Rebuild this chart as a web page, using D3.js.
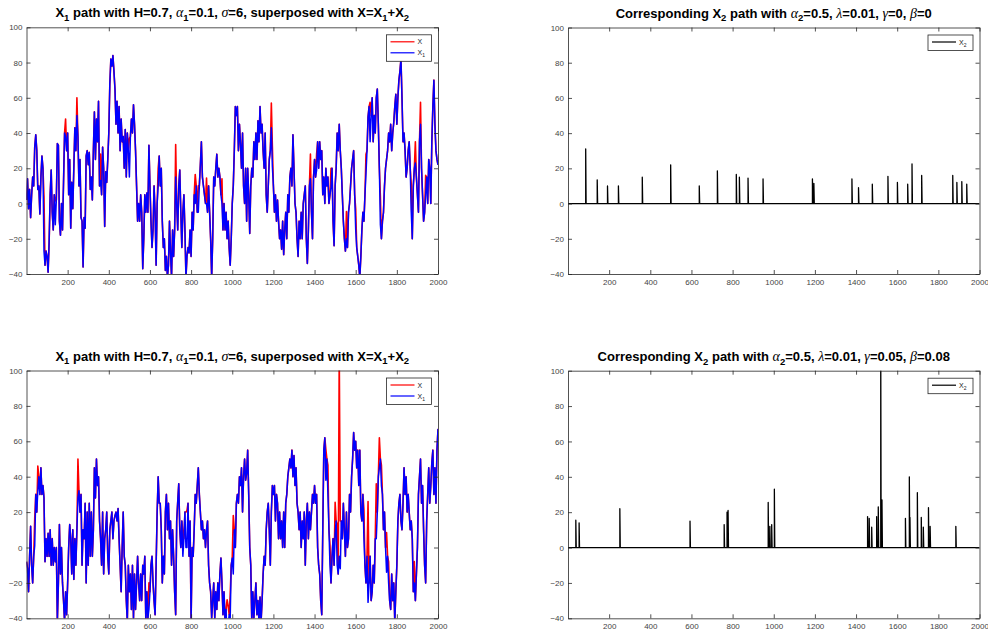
<!DOCTYPE html>
<html>
<head>
<meta charset="utf-8">
<script src="https://cdn.jsdelivr.net/npm/d3@7"></script>
<style>
  body { margin: 0; background: #fff; }
  svg { display: block; font-family: "Liberation Sans", Arial, Helvetica, sans-serif; }
</style>
</head>
<body>
<svg id="fig" width="988" height="635"></svg>
<script>
// ---- data ---------------------------------------------------------------
// X1 paths sampled every 5 time steps over t = 0 .. 2000
const sampleStep = 5;

const x1Top = [
  2, 14, -3, 8, -8, 5, 15, 10, 32, 39,
  30, 8, 10, -6, 15, 27, 20, -27, -35, -27,
  -30, -39, -22, 5, 19, -5, -15, 5, -12, 2,
  34, 33, -10, -18, 0, -15, 12, 40, 38, 30,
  40, 5, 25, -14, 12, -3, 20, 43, 30, 50,
  38, 10, 25, -8, -10, -36, -8, -14, 27, 30,
  22, 29, 8, 15, 2, 30, 52, 25, 48, 35,
  58, 10, 13, 5, 32, 20, -13, 18, 12, 25,
  40, 68, 82, 78, 84, 75, 65, 45, 58, 40,
  55, 30, 48, 35, 38, 20, 42, 15, 40, 30,
  15, 38, 48, 40, 56, 45, 30, 10, -10, 0,
  -10, 5, -5, -37, -20, 5, -5, 6, -5, 33,
  10, -10, -25, -15, 10, -5, -35, 0, 10, 27,
  10, 20, -10, -25, -20, -38, -30, -42, -35, -10,
  -28, -42, -15, -30, -15, 15, 0, -15, 10, 19,
  -5, -25, -5, 5, -15, -42, -30, -25, -28, -15,
  -30, -5, -15, 5, 0, 10, -5, -5, 10, 22,
  35, 15, 10, 5, 0, 0, -5, 10, -5, -20,
  -42, -20, 15, 10, 20, 28, 15, 20, 15, 5,
  0, -15, 0, -15, -5, -20, -10, -25, -35, -20,
  0, 10, 30, 55, 50, 55, 30, 45, 34, 20,
  40, 10, 0, 20, -10, 20, 5, -17, 10, 20,
  15, 35, 25, 40, 25, 47, 35, 55, 40, 45,
  30, 20, 40, 5, -5, 10, 25, 30, 43, 21,
  10, -5, 5, -10, 2, -10, -20, -15, -26, -10,
  -29, -15, -5, -20, 5, -5, 15, 20, 10, 39,
  20, 0, -5, -20, -30, -10, -20, -5, -20, 0,
  5, 10, -20, -34, -15, 10, 14, -5, -20, 15,
  25, 15, 19, 35, 20, 35, 25, 30, 5, 15,
  0, 20, 10, 15, 0, 5, 9, 20, -10, -24,
  10, 20, 40, 30, 45, 30, 20, 5, -10, -20,
  -27, -20, -25, -5, 0, 10, 20, 25, 30, 5,
  -15, -25, -30, -35, -42, -30, -15, -5, -10, 5,
  17, 30, 49, 55, 35, 50, 60, 35, 50, 40,
  60, 65, 45, 20, -12, -20, -10, -5, 10, 20,
  25, 30, 40, 35, 45, 30, 40, 46, 55, 62,
  45, 60, 70, 75, 82, 60, 35, 40, 30, 15,
  20, 30, 35, 20, -5, -20, 10, 20, 23, 15,
  5, -5, 35, 45, 20, 5, -10, -5, 5, 15,
  0, 25, 20, 0, 35, 55, 70, 45, 30, 25,
  22
];

const x1Bottom = [
  -8, -12, -25, -5, 12, -10, -20, -5, 1, 30,
  20, 32, 40, 30, 45, 30, 35, 28, -8, 5,
  -5, 8, -5, 10, -10, 5, -10, 0, -8, 0,
  -42, -20, 13, -15, 0, -20, -30, -42, -25, -38,
  -20, 0, 13, 5, -15, 10, -18, 5, -10, 10,
  28, 32, 20, 30, -10, 10, 5, 25, -20, 20,
  -10, 25, -5, 20, -5, 10, 45, 28, 50, 35,
  40, 15, 5, -10, 20, -15, 5, 10, 20, -5,
  -15, 10, 15, 20, 5, 15, 18, 20, 15, 22,
  5, -10, -25, 0, 20, -5, -10, -30, -42, -10,
  -25, -15, -35, -10, -40, -15, -35, -20, -5, -20,
  -30, -15, -30, -10, -15, -5, -42, -25, -40, -35,
  -25, -10, -5, -20, -30, -38, -10, 20, 40, 25,
  25, 10, -20, -5, -15, 20, 30, 10, 25, 5,
  15, -10, 10, -5, -25, -38, 15, 26, 36, 10,
  0, 15, -5, 5, 20, 0, 0, 25, -5, 15,
  -42, 0, -5, 10, 30, 25, 35, 45, 30, 20,
  10, 15, 5, 10, 0, 10, 15, -10, -20, -25,
  -40, -30, -20, -40, -25, -35, -20, -30, -15, -6,
  -20, -38, -25, -42, -35, -55, -45, -38, -40, -10,
  -6, -15, 10, 0, 25, 30, 25, 40, 35, 45,
  20, 40, 50, 38, 42, 55, 30, 0, -10, -42,
  -25, -40, -30, -20, -38, -30, -42, -28, -42, -30,
  -15, -5, -10, 10, 20, 25, 10, -10, 20, 35,
  30, 35, 15, 30, 25, 5, 20, 5, 15, 0,
  20, 0, 25, 30, 40, 45, 50, 45, 55, 40,
  52, 35, 45, 25, 20, 10, 20, 0, 15, 5,
  20, -10, 15, 25, 5, 20, 10, 20, 30, 25,
  35, 25, 30, 0, -10, -15, -30, -38, 10, 55,
  62, 38, 50, 30, 10, -10, -20, -5, 5, -10,
  8, 15, -10, -15, -5, -12, 15, 5, 25, 10,
  -5, 20, 0, 5, 30, 20, 40, 50, 65, 55,
  60, 45, 55, 35, 55, 20, 15, 30, 5, -10,
  -20, -5, -31, -20, -5, -30, -25, -10, -20, 5,
  5, 20, 40, 45, 50, 35, 30, 10, 20, 0,
  -14, -5, -20, -30, -35, -15, -30, -20, -42, -25,
  -10, 15, 25, 30, 15, 10, 25, 45, 30, 40,
  20, 30, 20, 10, 15, 5, -25, -20, -30, -15,
  0, 30, 40, 50, 25, 35, 10, -10, -20, 15,
  30, 45, 25, 35, 48, 55, 30, 45, 25, 55,
  67
];

// X2 jump process: jump times and jump sizes
const jumpTimesTop = [86, 142, 192, 245, 361, 499, 638, 726, 818, 833, 875, 948, 1188, 1195,
  1380, 1412, 1479, 1555, 1601, 1651, 1672, 1719, 1870, 1890, 1914, 1938];
const jumpSizesTop = [31, 13.5, 10, 10, 15, 22, 10, 18.5, 16.5, 15, 14.5, 14, 14, 11.5,
  14, 9, 11, 15.5, 12, 11, 22.5, 16, 16, 12, 12.5, 11];

const jumpTimesBottom = [38, 54, 252, 593, 759, 773, 778, 973, 981, 990, 1003, 1456, 1464, 1476,
  1500, 1508, 1520, 1526, 1640, 1659, 1662, 1698, 1717, 1727, 1752, 1760, 1885];
const jumpSizesBottom = [15.5, 14, 22, 15, 13, 20, 21, 25.5, 12, 13, 33, 17.5, 16.5, 11.5,
  17.5, 23, 115, 27, 16.5, 40, 17, 31, 17, 11.5, 22.5, 12, 12];

const xTicks = [200, 400, 600, 800, 1000, 1200, 1400, 1600, 1800, 2000];
const yTicks = [-40, -20, 0, 20, 40, 60, 80, 100];
const xDomain = [0, 2000];
const yDomain = [-40, 100];

// titles: [text, kind] where kind is "sub" (subscript) or "greek"
const titleLeft = [["X"], ["1", "sub"], [" path with H=0.7, "], ["α", "greek"], ["1", "sub"], ["=0.1, "],
  ["σ", "greek"], ["=6, superposed with X=X"], ["1", "sub"], ["+X"], ["2", "sub"]];
const titleTopRight = [["Corresponding X"], ["2", "sub"], [" path with "], ["α", "greek"], ["2", "sub"],
  ["=0.5, "], ["λ", "greek"], ["=0.01, "], ["γ", "greek"], ["=0, "], ["β", "greek"], ["=0"]];
const titleBottomRight = [["Corresponding X"], ["2", "sub"], [" path with "], ["α", "greek"], ["2", "sub"],
  ["=0.5, "], ["λ", "greek"], ["=0.01, "], ["γ", "greek"], ["=0.05, "], ["β", "greek"], ["=0.08"]];

const legendX = [["X"]];
const legendX1 = [["X"], ["1", "sub"]];
const legendX2 = [["X"], ["2", "sub"]];

// ---- drawing ------------------------------------------------------------
const svg = d3.select("#fig");
const AXIS_COLOR = "#262626";
let clipId = 0;

// X = X1 + X2, with each jump placed at the nearest sample of the X1 grid
function superpose(x1, times, sizes) {
  const out = x1.slice();
  times.forEach((t, k) => { out[Math.round(t / sampleStep)] += sizes[k]; });
  return out;
}

// polyline vertices of the X2 path: flat at zero with a spike at every jump
function jumpPath(times, sizes) {
  const pts = [[xDomain[0], 0]];
  times.forEach((t, k) => { pts.push([t, 0], [t, sizes[k]], [t + 2, 0]); });
  pts.push([xDomain[1], 0]);
  return pts;
}

function richText(textSel, parts, size, subSize, greekSize) {
  let shifted = false;
  parts.forEach(([t, kind]) => {
    const ts = textSel.append("tspan").text(t);
    if (kind === "sub") {
      ts.attr("font-size", subSize);
      if (!shifted) { ts.attr("dy", size * 0.3); shifted = true; }
    } else {
      if (shifted) { ts.attr("dy", -size * 0.3); shifted = false; }
      if (kind === "greek") {
        ts.attr("font-family", "'Liberation Serif', 'DejaVu Serif', serif")
          .attr("font-style", "italic").attr("font-weight", "normal")
          .attr("font-size", greekSize);
      }
    }
  });
}

function makeAxes(box, title) {
  const g = svg.append("g").attr("transform", `translate(${box.x},${box.y})`);
  const x = d3.scaleLinear().domain(xDomain).range([0, box.w]);
  const y = d3.scaleLinear().domain(yDomain).range([box.h, 0]);
  const id = "clip" + (clipId++);
  g.append("clipPath").attr("id", id).append("rect").attr("width", box.w).attr("height", box.h);
  g.append("rect").attr("width", box.w).attr("height", box.h).attr("fill", "#fff");
  const plot = g.append("g").attr("clip-path", `url(#${id})`);

  const t = g.append("text")
    .attr("x", box.w / 2).attr("y", -10)
    .attr("text-anchor", "middle")
    .attr("font-size", 13).attr("font-weight", "bold").attr("fill", "#000");
  richText(t, title, 13, 9.5, 14);
  return { g, x, y, plot, box };
}

function finishAxes(ax) {
  const { g, x, y, box } = ax;
  const styleAxis = sel => {
    sel.selectAll("path.domain").attr("stroke", AXIS_COLOR).attr("stroke-width", 0.8);
    sel.selectAll(".tick line").attr("stroke", AXIS_COLOR).attr("stroke-width", 0.8);
    sel.selectAll(".tick text").attr("fill", "#444").attr("font-size", 8)
      .attr("font-family", "'Liberation Sans', Arial, sans-serif");
  };
  const fmt = d3.format("d");
  g.append("g").attr("transform", `translate(0,${box.h})`)
    .call(d3.axisBottom(x).tickValues(xTicks).tickFormat(fmt).tickSize(-4).tickSizeOuter(0).tickPadding(5))
    .call(styleAxis);
  g.append("g")
    .call(d3.axisTop(x).tickValues(xTicks).tickSize(-4).tickSizeOuter(0).tickFormat(""))
    .call(styleAxis);
  g.append("g")
    .call(d3.axisLeft(y).tickValues(yTicks).tickFormat(fmt).tickSize(-4).tickSizeOuter(0).tickPadding(4))
    .call(styleAxis);
  g.append("g").attr("transform", `translate(${box.w},0)`)
    .call(d3.axisRight(y).tickValues(yTicks).tickSize(-4).tickSizeOuter(0).tickFormat(""))
    .call(styleAxis);
}

function legend(ax, entries) {
  const { g, box } = ax;
  const lw = 45, spacing = 11;
  const lh = 7 + spacing * (entries.length - 1) + 8.5;
  const lx = box.w - 6.5 - lw, ly = 7.5;
  const lg = g.append("g").attr("transform", `translate(${lx},${ly})`);
  lg.append("rect").attr("width", lw).attr("height", lh)
    .attr("fill", "#fff").attr("stroke", AXIS_COLOR).attr("stroke-width", 0.8);
  entries.forEach((e, i) => {
    const yy = 7 + i * spacing;
    lg.append("line").attr("x1", 4).attr("x2", 28).attr("y1", yy).attr("y2", yy)
      .attr("stroke", e.color).attr("stroke-width", 1.2);
    const t = lg.append("text").attr("x", 31).attr("y", yy + 2.5)
      .attr("font-size", 7).attr("fill", "#222");
    richText(t, e.label, 7, 5, 7);
  });
}

function drawPath(ax, pts, color, width) {
  const line = d3.line().x(d => ax.x(d[0])).y(d => ax.y(d[1]));
  ax.plot.append("path").datum(pts).attr("d", line)
    .attr("fill", "none").attr("stroke", color).attr("stroke-width", width)
    .attr("stroke-linejoin", "round");
}

const sampled = arr => arr.map((v, i) => [i * sampleStep, v]);

const boxes = {
  tl: { x: 26.5, y: 27.3, w: 411.5, h: 246.7 },
  tr: { x: 568, y: 27.5, w: 411.5, h: 246.5 },
  bl: { x: 26.5, y: 370.5, w: 411.5, h: 247.8 },
  br: { x: 568, y: 370.7, w: 411.5, h: 247.6 }
};

// top-left: X (red) under X1 (blue), gamma = beta = 0 jumps
{
  const ax = makeAxes(boxes.tl, titleLeft);
  drawPath(ax, sampled(superpose(x1Top, jumpTimesTop, jumpSizesTop)), "#ff0000", 1.6);
  drawPath(ax, sampled(x1Top), "#0000ff", 1.5);
  finishAxes(ax);
  legend(ax, [{ label: legendX, color: "#ff0000" }, { label: legendX1, color: "#0000ff" }]);
}
// top-right: X2 path
{
  const ax = makeAxes(boxes.tr, titleTopRight);
  drawPath(ax, jumpPath(jumpTimesTop, jumpSizesTop), "#000", 1.3);
  finishAxes(ax);
  legend(ax, [{ label: legendX2, color: "#000" }]);
}
// bottom-left: X (red) under X1 (blue), self-exciting jumps
{
  const ax = makeAxes(boxes.bl, titleLeft);
  drawPath(ax, sampled(superpose(x1Bottom, jumpTimesBottom, jumpSizesBottom)), "#ff0000", 1.6);
  drawPath(ax, sampled(x1Bottom), "#0000ff", 1.5);
  finishAxes(ax);
  legend(ax, [{ label: legendX, color: "#ff0000" }, { label: legendX1, color: "#0000ff" }]);
}
// bottom-right: X2 path
{
  const ax = makeAxes(boxes.br, titleBottomRight);
  drawPath(ax, jumpPath(jumpTimesBottom, jumpSizesBottom), "#000", 1.3);
  finishAxes(ax);
  legend(ax, [{ label: legendX2, color: "#000" }]);
}
</script>
</body>
</html>
